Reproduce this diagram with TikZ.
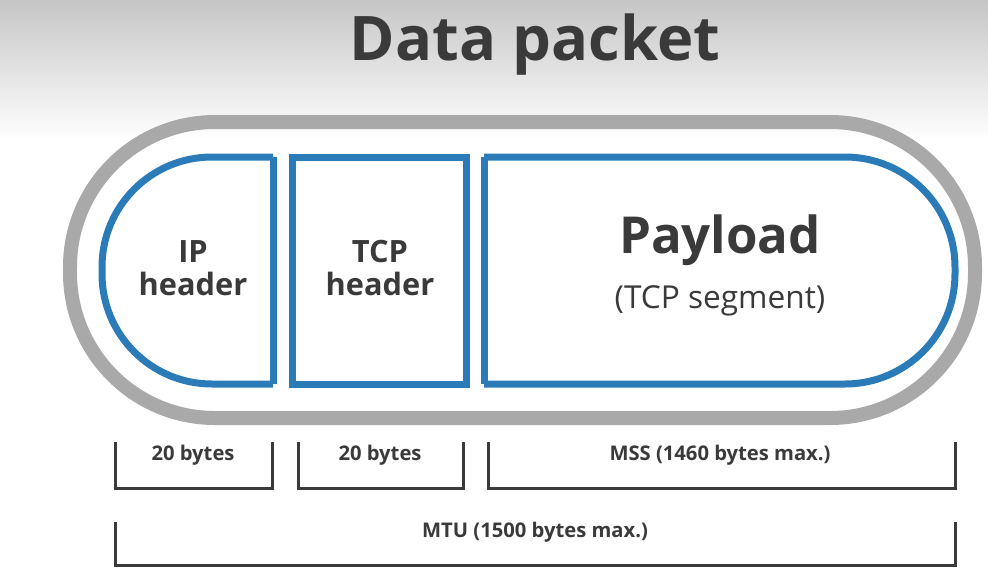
\documentclass[tikz,border=0pt]{standalone}
\usepackage{fontspec}
\setmainfont{Open Sans}
\usetikzlibrary{positioning}
\definecolor{pktblue}{HTML}{2B7BB9}
\definecolor{pktgray}{HTML}{A9A9A9}
\definecolor{txtgray}{HTML}{3A3A3A}
\tikzset{
  part/.style={draw=pktblue,line width=0.14cm},
  brack/.style={draw=txtgray,line width=0.06cm},
  small/.style={font=\fontsize{11.5}{13}\selectfont\bfseries,text=txtgray},
  head/.style={font=\fontsize{17.5}{19}\selectfont\bfseries,text=txtgray,align=center}
}
\begin{document}
\begin{tikzpicture}[x=0.02cm,y=-0.02cm]
  \useasboundingbox (0,0) rectangle (988,586);
  % background shade
  \shade[top color=gray!45,bottom color=white] (0,0) rectangle (988,140);
  \fill[white] (0,140) rectangle (988,586);

  % title
  \node[font=\fontsize{35}{38}\selectfont\bfseries,text=txtgray] (title) at (535,45) {Data packet};

  % outer packet
  \draw[draw=pktgray,line width=0.28cm,rounded corners=2.9cm] (70,122) rectangle (975,418);

  % parts
  \draw[part,rounded corners=2.2cm] (273,157) -- (102,157) -- (102,384) -- (273,384);
  \draw[part] (273,384) -- (273,157);
  \draw[part] (292,157) rectangle (466,384);
  \draw[part,rounded corners=2.2cm] (484,157) -- (955,157) -- (955,384) -- (484,384);
  \draw[part] (484,384) -- (484,157);

  % labels
  \node[head] (ip) at (193,268) {IP\\header};
  \node[head] (tcp) at (380,268) {TCP\\header};
  \node[font=\fontsize{29}{30}\selectfont\bfseries,text=txtgray] (pay) at (720,240) {Payload};
  \node[font=\fontsize{18}{19}\selectfont,text=txtgray] (seg) at (720,301) {(TCP segment)};

  % brackets
  \foreach \a/\b in {115/272,298/463,488/955}
    \draw[brack] (\a,442) -- (\a,488) -- (\b,488) -- (\b,442);
  \draw[brack] (115,522) -- (115,565) -- (955,565) -- (955,522);

  \node[small] (ipb) at (193,455) {20 bytes};
  \node[small] (tcpb) at (380,455) {20 bytes};
  \node[small] (mss) at (720,455) {MSS (1460 bytes max.)};
  \node[small] (mtu) at (535,532) {MTU (1500 bytes max.)};
\end{tikzpicture}
\end{document}
